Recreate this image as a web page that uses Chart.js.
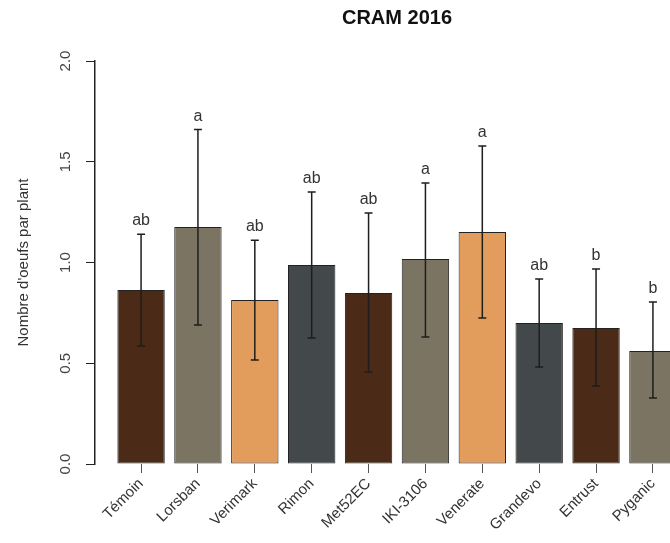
<!DOCTYPE html>
<html>
<head>
<meta charset="utf-8">
<script src="https://cdn.jsdelivr.net/npm/chart.js@4"></script>
<style>
  html, body { margin: 0; padding: 0; background: #fff; overflow: hidden; }
  #wrap { width: 700px; height: 543px; }
</style>
</head>
<body>
<div id="wrap"><canvas id="cram"></canvas></div>
<script>
const titleText = 'CRAM 2016';
const categories = ['Témoin', 'Lorsban', 'Verimark', 'Rimon', 'Met52EC', 'IKI-3106', 'Venerate', 'Grandevo', 'Entrust', 'Pyganic'];
const means = [0.864, 1.176, 0.814, 0.988, 0.849, 1.017, 1.151, 0.700, 0.675, 0.561];
const errLow = [0.585, 0.690, 0.516, 0.625, 0.457, 0.630, 0.725, 0.481, 0.387, 0.328];
const errHigh = [1.140, 1.660, 1.110, 1.350, 1.246, 1.395, 1.578, 0.918, 0.968, 0.804];
const letters = ['ab', 'a', 'ab', 'ab', 'ab', 'a', 'a', 'ab', 'b', 'b'];
const yTicks = [0, 0.5, 1.0, 1.5, 2.0];
const palette = ['#4b2a17', '#7b7462', '#e29c5c', '#43484a'];

const font = 'Liberation Sans, Arial, sans-serif';

const extras = {
  id: 'extras',
  afterDatasetsDraw(chart) {
    const ctx = chart.ctx;
    const x = chart.scales.x, y = chart.scales.y;
    ctx.save();
    // error bars
    ctx.strokeStyle = '#1e1e1e';
    ctx.lineWidth = 1.5;
    categories.forEach((c, i) => {
      const px = x.getPixelForValue(i);
      const lo = y.getPixelForValue(errLow[i]);
      const hi = y.getPixelForValue(errHigh[i]);
      ctx.beginPath();
      ctx.moveTo(px, lo); ctx.lineTo(px, hi);
      ctx.moveTo(px - 4, lo); ctx.lineTo(px + 4, lo);
      ctx.moveTo(px - 4, hi); ctx.lineTo(px + 4, hi);
      ctx.stroke();
      // letters
      ctx.fillStyle = '#333';
      ctx.font = '16px ' + font;
      ctx.textAlign = 'center';
      ctx.textBaseline = 'alphabetic';
      ctx.fillText(letters[i], px, hi - 9);
    });
    // y tick labels, rotated like R
    ctx.fillStyle = '#444';
    ctx.font = '15px ' + font;
    ctx.textAlign = 'center';
    ctx.textBaseline = 'middle';
    yTicks.forEach(v => {
      ctx.save();
      ctx.translate(66, y.getPixelForValue(v));
      ctx.rotate(-Math.PI / 2);
      ctx.fillText(v.toFixed(1), 0, 0);
      ctx.restore();
    });
    // title centred over the plot region
    ctx.fillStyle = '#111';
    ctx.font = 'bold 20px ' + font;
    ctx.textAlign = 'center';
    ctx.textBaseline = 'middle';
    ctx.fillText(titleText, (chart.chartArea.left + chart.chartArea.right) / 2, 18);
    ctx.restore();
  }
};

new Chart(document.getElementById('cram'), {
  type: 'bar',
  plugins: [extras],
  data: {
    datasets: [{
      data: categories.map((c, i) => ({ x: i, y: means[i] })),
      backgroundColor: categories.map((c, i) => palette[i % palette.length]),
      borderColor: '#222',
      borderWidth: 1,
      borderSkipped: false,
      barPercentage: 0.833,
      categoryPercentage: 1,
      clip: false
    }]
  },
  options: {
    responsive: true,
    maintainAspectRatio: false,
    animation: false,
    layout: { padding: { top: 61, right: 1, left: 0, bottom: 0 } },
    plugins: {
      legend: { display: false },
      tooltip: { enabled: false }
    },
    scales: {
      x: {
        type: 'linear',
        min: -0.81,
        max: 9.81,
        offset: false,
        afterFit(scale) { scale.height = 79; },
        border: { display: false },
        grid: {
          display: true,
          offset: false,
          drawOnChartArea: false,
          drawTicks: true,
          tickLength: 9,
          color: '#555'
        },
        ticks: {
          stepSize: 1,
          includeBounds: false,
          autoSkip: false,
          minRotation: 45,
          maxRotation: 45,
          padding: 2,
          color: '#333',
          font: { family: font, size: 15 },
          callback: (v) => categories[v] !== undefined && Number.isInteger(v) ? categories[v] : ''
        }
      },
      y: {
        min: 0,
        max: 2,
        afterFit(scale) { scale.width = 95; },
        border: { display: true, color: '#222', width: 1.5 },
        grid: {
          display: true,
          drawOnChartArea: false,
          drawTicks: true,
          tickLength: 9,
          color: '#222'
        },
        ticks: {
          stepSize: 0.5,
          display: false
        },
        title: {
          display: true,
          text: "Nombre d'oeufs par plant",
          color: '#333',
          font: { family: font, size: 15 },
          padding: { top: 15, bottom: 0 }
        }
      }
    }
  }
});
</script>
</body>
</html>
